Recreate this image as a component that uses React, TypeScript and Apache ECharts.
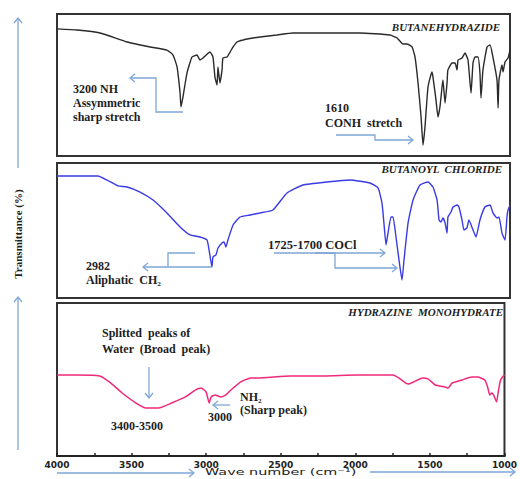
import React, { useEffect, useRef } from "react";
import * as echarts from "echarts";

// ---- Data (wavenumber in cm-1, transmittance in relative % of each panel) ----
const hydrazideWn = [4000,3868,3715,3536,3384,3272,3232,3205,3185,3179,3166,3139,3106,3073,3053,3033,2987,2967,2954,2940,2934,2921,2907,2901,2874,2854,2834,2808,2768,2702,2656,2543,2437,2212,1993,1795,1748,1709,1682,1649,1629,1609,1589,1576,1563,1543,1517,1510,1490,1477,1464,1450,1444,1430,1417,1411,1384,1364,1351,1344,1318,1298,1278,1258,1245,1232,1212,1199,1192,1179,1152,1132,1113,1086,1079,1073,1053,1046,1033,1013,1000];
const hydrazideT = [89.5,88.7,86.6,80.3,76.8,74.6,71.1,62.7,44.4,34.5,41.5,58.5,69.7,71.1,67.6,69.0,73.2,69.7,55.6,50.0,62.7,51.4,60.6,69.0,69.7,73.2,76.8,80.3,81.7,83.1,83.8,85.2,86.6,86.6,86.6,85.2,83.1,78.9,78.9,76.8,69.7,51.4,27.5,7.7,20.4,48.6,59.2,55.6,39.4,27.5,34.5,48.6,53.5,37.3,51.4,60.6,65.5,65.5,60.6,67.6,69.0,72.5,67.6,44.4,65.5,69.7,69.7,58.5,40.8,60.6,76.8,78.2,69.7,53.5,33.8,53.5,64.1,59.2,66.2,69.0,74.6];

const chlorideWn = [4000,3729,3669,3596,3536,3450,3364,3272,3185,3119,3053,3007,2993,2974,2967,2947,2934,2907,2894,2881,2868,2834,2788,2722,2656,2570,2477,2371,2212,2060,1927,1874,1848,1835,1821,1808,1788,1775,1755,1735,1715,1702,1675,1642,1596,1543,1510,1483,1470,1457,1444,1430,1417,1411,1391,1377,1351,1338,1318,1305,1285,1272,1245,1225,1199,1166,1132,1113,1086,1073,1053,1033,1020,1013,1000];
const chlorideT = [90.4,90.4,87.4,83.0,82.2,78.5,72.6,63.0,52.6,46.7,45.2,43.0,35.6,23.0,30.4,31.9,37.0,40.7,41.5,37.8,43.0,54.1,60.0,61.5,63.0,65.2,77.8,83.7,85.9,87.4,85.2,81.5,70.4,55.6,39.3,48.1,60.0,60.0,45.2,28.1,13.3,28.1,55.6,72.6,83.7,85.9,82.2,72.6,57.8,56.3,59.3,55.6,48.1,60.0,63.7,67.4,68.9,67.4,57.8,50.4,51.9,57.8,50.4,45.2,57.8,67.4,68.9,63.0,59.3,60.0,48.1,43.0,60.0,65.2,68.9];

const hydrateWn = [4000,3868,3715,3649,3563,3470,3404,3318,3232,3139,3073,3033,3000,2980,2967,2940,2901,2868,2834,2768,2702,2656,2437,2212,1993,1748,1709,1662,1642,1609,1550,1510,1464,1398,1377,1351,1285,1219,1179,1132,1113,1099,1086,1073,1053,1040,1026,1013,1000];
const hydrateT = [52.9,52.9,52.3,48.4,41.2,34.6,31.4,31.4,34.6,38.6,43.1,44.4,41.8,34.6,38.6,39.9,38.6,39.9,43.1,48.4,51.0,51.0,52.3,52.3,52.9,52.9,51.0,47.7,47.1,48.4,51.0,50.3,46.4,45.1,44.4,47.7,49.7,51.6,51.6,49.7,45.1,39.9,41.2,39.9,35.3,43.1,49.7,51.6,52.9];

const compoundNames = ["BUTANEHYDRAZIDE", "BUTANOYL  CHLORIDE", "HYDRAZINE  MONOHYDRATE"];
const xTickValues = [4000, 3500, 3000, 2500, 2000, 1500, 1000];

const zip = (a: number[], b: number[]) => a.map((v, i) => [v, b[i]]);

const ARROW = "#7ea6d6";
const TXT = "#1e1e1e";
const SERIF = "'Liberation Serif', 'Times New Roman', serif";

function head(x: number, y: number, dir: "l" | "r" | "u" | "d") {
  const s = 5, w = 4;
  let pts: number[][];
  if (dir === "l") pts = [[x + s, y - w], [x, y], [x + s, y + w]];
  else if (dir === "r") pts = [[x - s, y - w], [x, y], [x - s, y + w]];
  else if (dir === "u") pts = [[x - w, y + s], [x, y], [x + w, y + s]];
  else pts = [[x - w, y - s], [x, y], [x + w, y - s]];
  return { type: "polyline", z: 100, shape: { points: pts }, style: { stroke: ARROW, lineWidth: 1.3, fill: null } };
}
function pl(points: number[][]) {
  return { type: "polyline", z: 100, shape: { points }, style: { stroke: ARROW, lineWidth: 1.3, fill: null } };
}
function txt(x: number, y: number, text: string, opts: any = {}, extra: any = {}) {
  return {
    type: "text", z: 100, x, y, ...extra,
    style: {
      text, fill: TXT, fontFamily: SERIF, fontWeight: "bold", fontSize: 12,
      textAlign: "left", textVerticalAlign: "middle", ...opts,
    },
  };
}

export default function App() {
  const ref = useRef<HTMLDivElement>(null);
  useEffect(() => {
    if (!ref.current) return;
    const chart = echarts.init(ref.current, null, { renderer: "svg" });
    const grids = [
      { left: 57, top: 14, width: 453, height: 142 },
      { left: 57, top: 163, width: 453, height: 135 },
      { left: 57, top: 303, width: 453, height: 153 },
    ].map((g) => ({ ...g, show: true, borderColor: "#333", borderWidth: 2, backgroundColor: "transparent" }));

    const xBase = { type: "value", min: 1000, max: 4000, inverse: true, interval: 250, splitLine: { show: false } };
    const xAxes = [
      { ...xBase, gridIndex: 0, show: false },
      { ...xBase, gridIndex: 1, show: false },
      {
        ...xBase, gridIndex: 2,
        axisLine: { show: true, lineStyle: { color: "#222", width: 2 } },
        axisTick: { show: true, inside: true, length: 3, lineStyle: { color: "#222", width: 1.5 } },
        axisLabel: {
          formatter: (v: number) => (xTickValues.includes(v) ? String(v) : ""),
          fontFamily: "'DejaVu Sans'", fontWeight: "bold", fontSize: 9, color: "#222", margin: 4,
          showMaxLabel: true, showMinLabel: true,
        },
      },
    ];
    const yAxes = [0, 1, 2].map((i) => ({ type: "value", gridIndex: i, min: 0, max: 100, show: false }));

    const mk = (i: number, data: number[][], color: string, w: number) => ({
      type: "line", xAxisIndex: i, yAxisIndex: i, data, showSymbol: false, symbol: "none",
      lineStyle: { color, width: w }, smooth: 0.15,
    });

    const graphic: any[] = [
      // y title & arrows
      txt(18, 234, "Transmittance (%)", { textAlign: "center", fontSize: 11 }, { rotation: Math.PI / 2 }),
      pl([[18, 168], [18, 19]]), head(18, 18, "u"),
      pl([[18, 450], [18, 298]]), head(18, 297, "u"),
      // x name & arrows
      {
        type: "text", z: 100, x: 205, y: 472, scaleX: 1.6,
        style: { text: "Wave number (cm⁻¹)", fill: "#222", fontFamily: "'DejaVu Sans'", fontSize: 9,
          textAlign: "left", textVerticalAlign: "middle" },
      },
      pl([[57, 473], [193, 473]]), head(194, 473, "r"),
      pl([[370, 472], [514, 472]]), head(515, 472, "r"),
      // panel titles
      txt(500, 27, compoundNames[0], { textAlign: "right", fontStyle: "italic", fontSize: 11 }),
      txt(502, 169, compoundNames[1], { textAlign: "right", fontStyle: "italic", fontSize: 11 }),
      txt(503, 312, compoundNames[2], { textAlign: "right", fontStyle: "italic", fontSize: 11 }),
      // panel 1 annotations
      txt(73, 89, "3200 NH"), txt(73, 103, "Assymmetric"), txt(73, 117, "sharp stretch"),
      pl([[183, 112], [156, 112], [156, 78], [131, 78]]), head(130, 78, "l"),
      txt(325, 108, "1610"), txt(325, 123, "CONH  stretch"),
      pl([[336, 135], [375, 135], [375, 140], [412, 140]]), head(413, 140, "r"),
      // panel 2 annotations
      txt(86, 266, "2982"), txt(86, 280, "Aliphatic  CH₂"),
      pl([[212, 267], [144, 267]]), head(143, 267, "l"),
      pl([[168, 267], [168, 253], [195, 253]]),
      txt(268, 245, "1725-1700 COCl", { fontSize: 12.5 }),
      pl([[274, 253], [384, 253]]), head(385, 253, "r"),
      pl([[315, 253], [335, 253], [335, 268], [396, 268]]), head(397, 268, "r"),
      // panel 3 annotations
      txt(102, 333, "Splitted  peaks of"), txt(102, 349, "Water  (Broad  peak)"),
      pl([[149, 367], [149, 397]]), head(149, 398, "d"),
      txt(111, 426, "3400-3500"),
      txt(208, 417, "3000"),
      pl([[230, 405], [214, 405]]), head(213, 405, "l"),
      txt(240, 397, "NH₂"), txt(240, 410, "(Sharp peak)"),
    ];

    chart.setOption({
      animation: false,
      backgroundColor: "#fff",
      grid: grids,
      xAxis: xAxes,
      yAxis: yAxes,
      series: [
        mk(0, zip(hydrazideWn, hydrazideT), "#2a2a2a", 1.4),
        mk(1, zip(chlorideWn, chlorideT), "#3a3ae6", 1.4),
        mk(2, zip(hydrateWn, hydrateT), "#f0287a", 1.5),
      ],
      graphic,
    });
    return () => chart.dispose();
  }, []);
  return (
    <div
      ref={ref}
      style={{ position: "fixed", left: 0, top: 0, width: 520, height: 479, background: "#fff" }}
    />
  );
}
